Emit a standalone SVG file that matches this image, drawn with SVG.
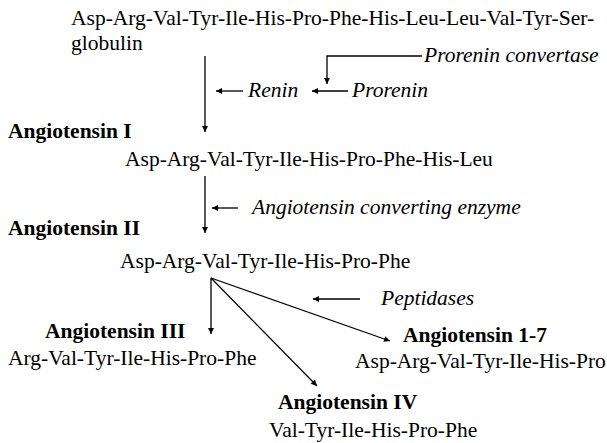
<svg xmlns="http://www.w3.org/2000/svg" width="607" height="443" viewBox="0 0 607 443">
<style>
text{font-family:"Liberation Serif","Times New Roman",serif;font-size:21.5px;fill:#000}
.b{font-weight:bold}
.i{font-style:italic}
.c{stroke:#000;stroke-width:1.3;fill:none}
</style>
<defs>
<marker id="ah" viewBox="0 0 10 10" refX="10" refY="5" markerWidth="7" markerHeight="6" markerUnits="userSpaceOnUse" orient="auto">
<path d="M0,0 L10,5 L0,10 z" fill="#000"/>
</marker>
</defs>
<rect width="607" height="443" fill="#fff"/>
<g id="connectors">
<line class="c" x1="205" y1="56" x2="205" y2="132" marker-end="url(#ah)"/>
<polyline class="c" points="422,56 327,56 327,84" marker-end="url(#ah)"/>
<line class="c" x1="243" y1="91" x2="216" y2="91" marker-end="url(#ah)"/>
<line class="c" x1="348" y1="91" x2="312" y2="91" marker-end="url(#ah)"/>
<line class="c" x1="205" y1="176" x2="205" y2="233" marker-end="url(#ah)"/>
<line class="c" x1="238" y1="208" x2="212" y2="208" marker-end="url(#ah)"/>
<line class="c" x1="211" y1="278" x2="211" y2="334" marker-end="url(#ah)"/>
<line class="c" x1="211" y1="278" x2="317" y2="386" marker-end="url(#ah)"/>
<line class="c" x1="211" y1="278" x2="390" y2="341" marker-end="url(#ah)"/>
<line class="c" x1="360" y1="299" x2="313" y2="299" marker-end="url(#ah)"/>
</g>
<g id="angiotensinogen">
<text x="71" y="25">Asp-Arg-Val-Tyr-Ile-His-Pro-Phe-His-Leu-Leu-Val-Tyr-Ser-</text>
<text x="71" y="50">globulin</text>
</g>
<g id="prorenin-convertase"><text class="i" x="424" y="62">Prorenin convertase</text></g>
<g id="renin"><text class="i" x="248" y="97">Renin</text></g>
<g id="prorenin"><text class="i" x="352" y="97">Prorenin</text></g>
<g id="angiotensin-1">
<text class="b" x="8" y="138">Angiotensin I</text>
<text x="125" y="166">Asp-Arg-Val-Tyr-Ile-His-Pro-Phe-His-Leu</text>
</g>
<g id="ace"><text class="i" x="252" y="214">Angiotensin converting enzyme</text></g>
<g id="angiotensin-2">
<text class="b" x="8" y="235">Angiotensin II</text>
<text x="120" y="268">Asp-Arg-Val-Tyr-Ile-His-Pro-Phe</text>
</g>
<g id="peptidases"><text class="i" x="381" y="305">Peptidases</text></g>
<g id="angiotensin-3">
<text class="b" x="45" y="338">Angiotensin III</text>
<text x="8" y="365">Arg-Val-Tyr-Ile-His-Pro-Phe</text>
</g>
<g id="angiotensin-1-7">
<text class="b" x="403" y="342">Angiotensin 1-7</text>
<text x="355" y="368">Asp-Arg-Val-Tyr-Ile-His-Pro</text>
</g>
<g id="angiotensin-4">
<text class="b" x="278" y="409">Angiotensin IV</text>
<text x="269" y="437">Val-Tyr-Ile-His-Pro-Phe</text>
</g>
</svg>
